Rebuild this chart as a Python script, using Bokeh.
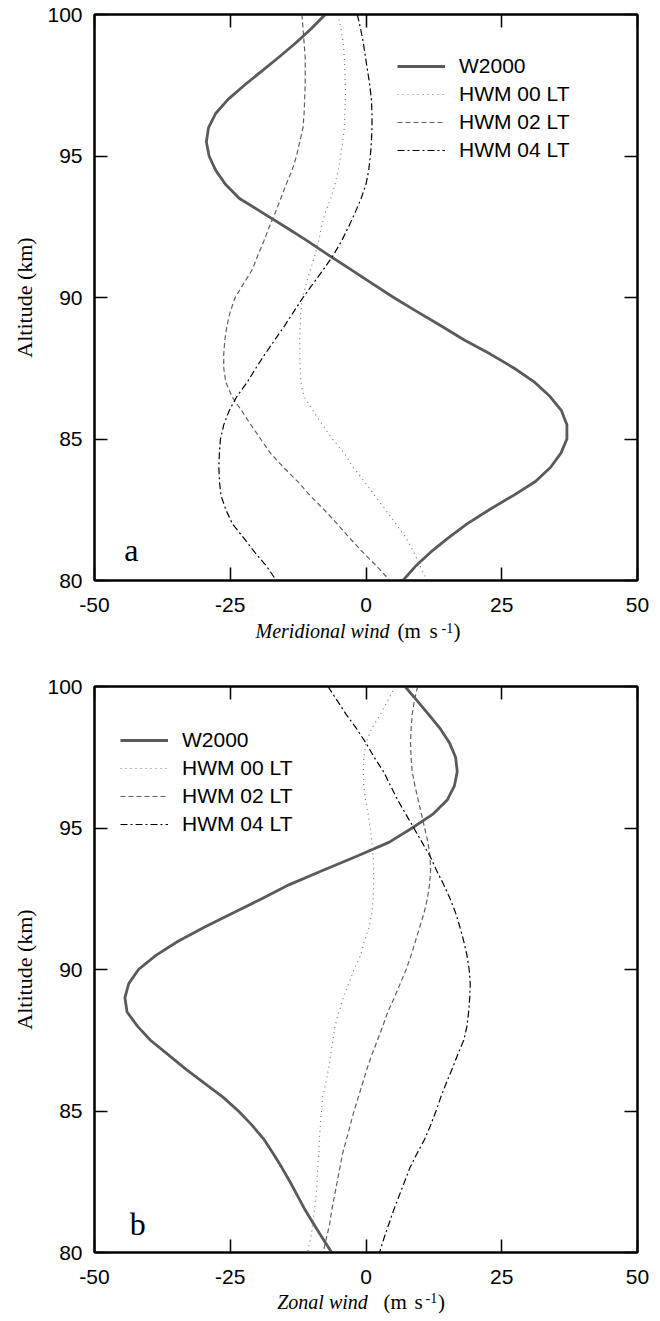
from bokeh.plotting import figure
from bokeh.models import (Range1d, FixedTicker, LinearAxis, Label, Legend, LegendItem,
                          CustomLabelingPolicy)
from bokeh.layouts import column
from bokeh.embed import file_html
from bokeh.resources import INLINE

# ---------------- data ----------------
altitude_km = [100.0, 99.5, 99.0, 98.5, 98.0, 97.5, 97.0, 96.5, 96.0, 95.5,
               95.0, 94.5, 94.0, 93.5, 93.0, 92.5, 92.0, 91.5, 91.0, 90.5,
               90.0, 89.5, 89.0, 88.5, 88.0, 87.5, 87.0, 86.5, 86.0, 85.5,
               85.0, 84.5, 84.0, 83.5, 83.0, 82.5, 82.0, 81.5, 81.0, 80.5, 80.0]

# (a) meridional wind, m/s
w2000_mer = [-7.5, -10.1, -12.9, -16.0, -19.2, -22.4, -25.4, -27.7, -29.0, -29.4,
             -28.9, -27.7, -25.9, -23.3, -19.1, -14.9, -10.8, -6.9, -2.9, 1.1,
             5.1, 9.4, 13.8, 18.1, 22.9, 27.3, 31.1, 33.9, 36.0, 37.0,
             37.0, 35.9, 34.0, 31.2, 27.1, 22.7, 18.6, 15.1, 11.9, 9.1, 6.8]
hwm00_mer = [-5.2, -4.6, -4.2, -4.0, -3.9, -3.8, -3.8, -3.9, -4.0, -4.3,
             -4.7, -5.1, -5.7, -6.5, -7.5, -8.2, -8.7, -9.4, -10.2, -11.0,
             -11.7, -12.0, -12.1, -12.2, -12.2, -12.1, -12.0, -11.4, -9.8, -8.0,
             -6.2, -4.0, -2.4, -0.3, 1.6, 3.6, 5.5, 7.4, 8.8, 10.0, 11.2]
hwm02_mer = [-11.8, -11.6, -11.4, -11.2, -11.2, -11.2, -11.3, -11.4, -11.6, -12.2,
             -12.8, -13.6, -14.7, -15.7, -16.7, -17.8, -18.8, -19.9, -20.9, -22.5,
             -24.1, -25.0, -25.6, -26.0, -26.2, -26.2, -25.8, -24.7, -22.9, -21.2,
             -19.4, -17.6, -15.2, -12.6, -10.3, -7.7, -5.3, -3.0, -0.6, 2.0, 4.4]
hwm04_mer = [-1.6, -1.0, -0.5, -0.1, 0.3, 0.7, 1.0, 1.1, 1.1, 1.0,
             0.8, 0.5, 0.0, -0.9, -2.0, -3.2, -4.5, -6.0, -7.8, -9.7,
             -11.6, -13.3, -15.0, -16.8, -18.6, -20.3, -21.9, -23.8, -25.2, -26.2,
             -26.8, -27.0, -27.1, -27.0, -26.7, -25.8, -24.6, -22.5, -20.5, -18.3, -16.5]

# (b) zonal wind, m/s
w2000_zon = [7.2, 9.4, 11.6, 13.7, 15.4, 16.5, 16.8, 16.3, 15.0, 12.4,
             8.5, 4.3, -1.7, -8.0, -14.1, -19.2, -24.5, -29.7, -34.6, -38.7,
             -41.9, -43.7, -44.4, -44.0, -42.1, -39.7, -36.5, -33.3, -29.9, -26.4,
             -23.5, -21.0, -18.8, -17.1, -15.5, -14.0, -12.6, -11.2, -9.6, -8.0, -6.3]
hwm00_zon = [5.4, 4.0, 2.6, 1.0, 0.0, -0.4, -0.5, -0.4, -0.1, 0.4,
             0.8, 1.1, 1.3, 1.4, 1.4, 1.3, 1.1, 0.6, -0.3, -1.0,
             -2.2, -3.2, -4.2, -5.0, -5.7, -6.1, -6.5, -6.9, -7.4, -8.0,
             -8.2, -8.4, -8.6, -8.7, -8.9, -9.0, -9.2, -9.5, -9.8, -10.2, -10.8]
hwm02_zon = [9.5, 8.9, 8.5, 8.3, 8.2, 8.3, 8.5, 9.0, 9.6, 10.2,
             10.8, 11.4, 11.8, 11.9, 11.7, 11.3, 10.7, 9.9, 9.1, 8.3,
             7.4, 6.3, 5.2, 4.0, 3.1, 2.1, 1.1, 0.2, -0.6, -1.4,
             -2.2, -2.9, -3.6, -4.3, -4.8, -5.3, -5.8, -6.3, -6.7, -7.3, -7.9]
hwm04_zon = [-7.0, -5.3, -3.6, -1.7, 0.0, 1.5, 3.2, 4.5, 5.8, 7.3,
             8.8, 10.3, 11.8, 13.0, 14.3, 15.5, 16.5, 17.3, 18.0, 18.6,
             19.0, 19.2, 19.1, 18.9, 18.6, 18.0, 16.9, 15.9, 14.8, 13.8,
             12.9, 11.9, 10.8, 9.4, 8.1, 7.1, 6.1, 5.1, 4.2, 3.3, 2.5]

series_names = ["W2000", "HWM 00 LT", "HWM 02 LT", "HWM 04 LT"]
x_ticks = [-50, -25, 0, 25, 50]
x_tick_labels = ["-50", "-25", "0", "25", "50"]
y_ticks = [80, 85, 90, 95, 100]
y_tick_labels = ["80", "85", "90", "95", "100"]
x_titles = ["Meridional wind", "Zonal wind"]
unit_parts = ["(m", "s", "-1", ")"]
panel_letters = ["a", "b"]
y_title = "Altitude (km)"

SANS = "Liberation Sans"
SERIF = "Liberation Serif"
FRAME_W = 543
FRAME_H = 566
LEFT = 94
RIGHT = 15

styles = [
    dict(line_color="#5a5a5a", line_width=2.8, line_dash="solid"),
    dict(line_color="#767676", line_width=1.2, line_dash="1 4"),
    dict(line_color="#606060", line_width=1.2, line_dash="5 3"),
    dict(line_color="#000000", line_width=1.2, line_dash="7 3 2 3"),
]

HIDE_LABELS = CustomLabelingPolicy(code="""
for (let i = 0; i < indices.size; i++) { indices.unset(i) }
""")


def style_axis(ax, ticks, labels, show_labels):
    ax.ticker = FixedTicker(ticks=ticks)
    ax.major_label_overrides = {t: l for t, l in zip(ticks, labels)}
    ax.minor_tick_line_color = None
    ax.major_tick_in = 13
    ax.major_tick_out = 0
    ax.major_tick_line_width = 1.5
    ax.major_tick_line_color = "black"
    ax.axis_line_width = 2
    ax.axis_line_color = "black"
    if show_labels:
        ax.major_label_text_font = SANS
        ax.major_label_text_font_size = "21px"
        ax.major_label_text_color = "black"
    else:
        ax.major_label_text_font_size = "0px"
        ax.major_label_standoff = 0
        ax.major_label_policy = HIDE_LABELS


def make_panel(series, idx, border_top, legend_loc, letter_xy):
    p = figure(frame_width=FRAME_W, frame_height=FRAME_H,
               x_range=Range1d(-50, 50), y_range=Range1d(80, 100),
               output_backend="svg", toolbar_location=None,
               min_border_left=LEFT, min_border_right=RIGHT,
               min_border_top=border_top, min_border_bottom=38)
    p.xgrid.visible = False
    p.ygrid.visible = False
    p.outline_line_color = "black"
    p.outline_line_width = 2
    p.background_fill_color = "white"
    p.border_fill_color = "white"

    style_axis(p.xaxis[0], x_ticks, x_tick_labels, True)
    p.xaxis[0].major_label_standoff = 17
    style_axis(p.yaxis[0], y_ticks, y_tick_labels, True)
    p.yaxis[0].major_label_standoff = 12
    p.yaxis[0].axis_label = y_title
    p.yaxis[0].axis_label_text_font = SERIF
    p.yaxis[0].axis_label_text_font_style = "normal"
    p.yaxis[0].axis_label_text_font_size = "22px"
    p.yaxis[0].axis_label_text_color = "black"
    p.yaxis[0].axis_label_standoff = 7

    top = LinearAxis()
    style_axis(top, x_ticks, x_tick_labels, False)
    p.add_layout(top, "above")
    right = LinearAxis()
    style_axis(right, y_ticks, y_tick_labels, False)
    p.add_layout(right, "right")

    items = []
    for name, xs, st in zip(series_names, series, styles):
        r = p.line(xs, altitude_km, line_join="round", **st)
        items.append(LegendItem(label=name, renderers=[r]))

    legend = Legend(items=items, location=legend_loc,
                    label_text_font=SANS, label_text_font_size="21px",
                    label_text_color="black",
                    glyph_width=48, glyph_height=28, label_height=28,
                    label_standoff=14, spacing=0, padding=0, margin=0,
                    border_line_color=None, background_fill_alpha=0)
    p.add_layout(legend)

    p.add_layout(Label(x=letter_xy[0], y=letter_xy[1], text=panel_letters[idx],
                       text_font=SERIF, text_font_size="32px",
                       text_baseline="alphabetic", text_align="left",
                       text_color="black"))
    return p


def make_title(idx, height, title_y, sup_y, xs):
    """x-axis title strip: italic quantity + upright unit with superscript."""
    tx, mx, sx, ex, cx = xs
    f = figure(frame_width=FRAME_W, frame_height=height,
               x_range=Range1d(-50, 50), y_range=Range1d(0, height),
               x_axis_location=None, y_axis_location=None,
               output_backend="svg", toolbar_location=None,
               min_border_left=LEFT, min_border_right=RIGHT,
               min_border_top=0, min_border_bottom=0)
    f.grid.visible = False
    f.outline_line_color = None
    f.background_fill_color = "white"
    f.border_fill_color = "white"
    common = dict(text_font=SERIF, text_baseline="alphabetic", text_align="left",
                  text_color="black")
    f.add_layout(Label(x=tx, y=title_y, text=x_titles[idx], text_font_style="italic",
                       text_font_size="20px", **common))
    f.add_layout(Label(x=mx, y=title_y, text=unit_parts[0], text_font_size="21px", **common))
    f.add_layout(Label(x=sx, y=title_y, text=unit_parts[1], text_font_size="21px", **common))
    f.add_layout(Label(x=ex, y=sup_y, text=unit_parts[2], text_font_size="14px", **common))
    f.add_layout(Label(x=cx, y=title_y, text=unit_parts[3], text_font_size="21px", **common))
    return f


pa = make_panel([w2000_mer, hwm00_mer, hwm02_mer, hwm04_mer], 0,
                border_top=14, legend_loc=(303, 416), letter_xy=(-44.5, 81.09))
ta = make_title(0, 42, title_y=29.2, sup_y=32.8,
                xs=(-20.35, 5.8, 11.7, 13.9, 16.1))
pb = make_panel([w2000_zon, hwm00_zon, hwm02_zon, hwm04_zon], 1,
                border_top=26, legend_loc=(26, 414), letter_xy=(-43.5, 80.99))
tb = make_title(1, 30, title_y=18.7, sup_y=22.3,
                xs=(-16.35, 3.22, 8.93, 10.96, 13.26))

layout = column(pa, ta, pb, tb, spacing=0)
open("out.html", "w").write(file_html(layout, INLINE))
